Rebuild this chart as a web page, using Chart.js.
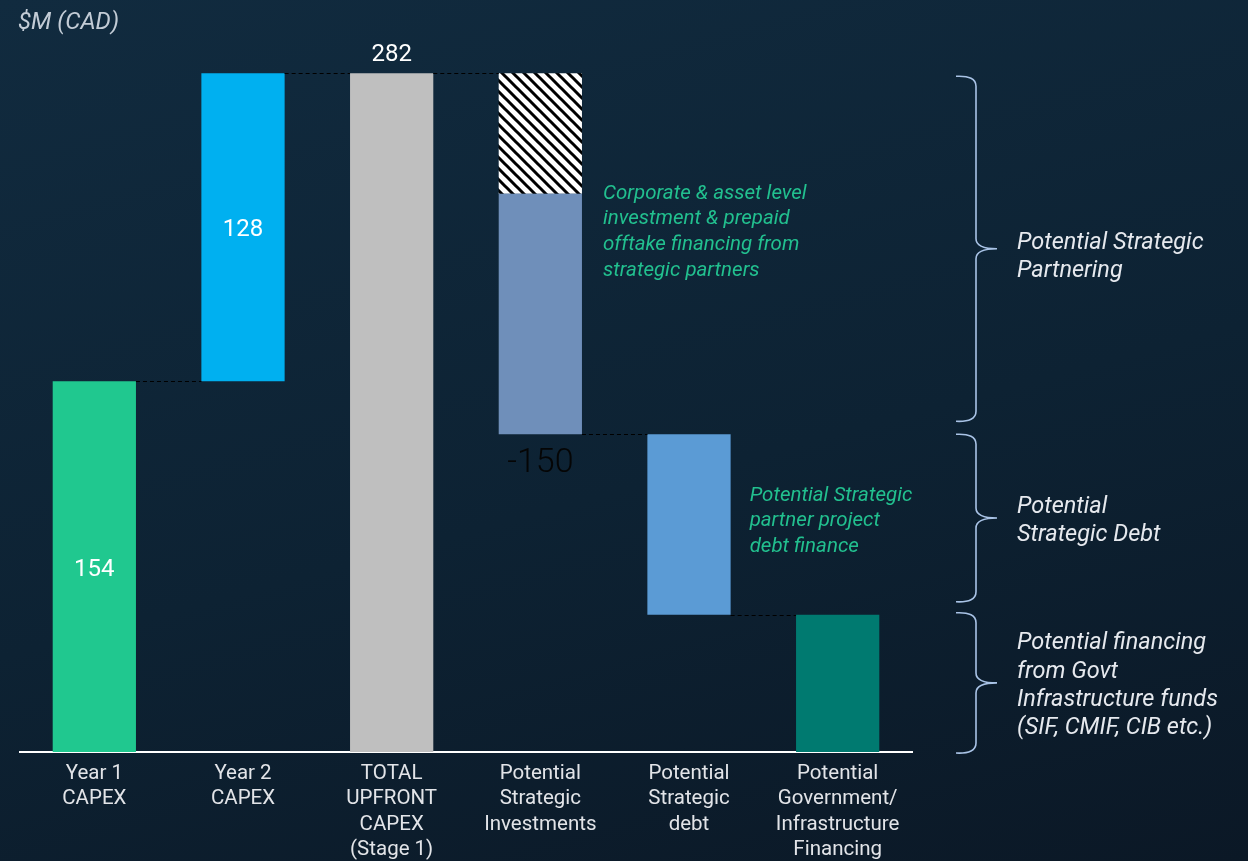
<!DOCTYPE html>
<html>
<head>
<meta charset="utf-8">
<script src="https://cdn.jsdelivr.net/npm/chart.js@4.4.1/dist/chart.umd.min.js"></script>
<style>
  html, body { margin: 0; padding: 0; overflow: hidden; }
  body {
    width: 1248px; height: 861px;
    background: linear-gradient(165deg, #112b3f 0%, #0d2233 55%, #0b1826 100%);
  }
  canvas { display: block; }
</style>
</head>
<body>
<canvas id="chart" width="1248" height="861"></canvas>
<script>
// 軸ラベル（カテゴリ）
const categories = [
    ['Year 1', 'CAPEX'],
    ['Year 2', 'CAPEX'],
    ['TOTAL', 'UPFRONT', 'CAPEX', '(Stage 1)'],
    ['Potential', 'Strategic', 'Investments'],
    ['Potential', 'Strategic', 'debt'],
    ['Potential', 'Government/', 'Infrastructure', 'Financing']
];

// 値 ($M CAD)
const year1Capex = 154;
const year2Capex = 128;
const totalCapex = 282;
const strategicInvestments = 150;   // ラベルは -150
const investmentsHatched = 50;      // 斜線部分
const strategicDebt = 75;
const governmentFinancing = 57;

const barColors = ['#20c88f', '#00b0f0', '#bfbfbf', '#6f8fba', '#5b9bd5', '#007a70'];

// 右側の括弧
const braces = [
    { hi: totalCapex, lo: totalCapex - strategicInvestments, label: ['Potential Strategic', 'Partnering'] },
    { hi: totalCapex - strategicInvestments, lo: governmentFinancing, label: ['Potential', 'Strategic Debt'] },
    { hi: governmentFinancing, lo: 0, label: ['Potential financing', 'from Govt', 'Infrastructure funds', '(SIF, CMIF, CIB etc.)'] }
];

const noteInvest = ['Corporate & asset level', 'investment & prepaid', 'offtake financing from', 'strategic partners'];
const noteDebt = ['Potential Strategic', 'partner project', 'debt finance'];

// ウォーターフォールの範囲を作成
const afterInvest = totalCapex - strategicInvestments;
const solidRanges = [
    [0, year1Capex],
    [year1Capex, year1Capex + year2Capex],
    [0, totalCapex],
    [afterInvest, totalCapex - investmentsHatched],
    [afterInvest - strategicDebt, afterInvest],
    [0, governmentFinancing]
];
const hatchRanges = [null, null, null, [totalCapex - investmentsHatched, totalCapex], null, null];
const runningLevels = [year1Capex, year1Capex + year2Capex, totalCapex, afterInvest, afterInvest - strategicDebt];

function makeHatch() {
    const c = document.createElement('canvas');
    c.width = 11; c.height = 11;
    const g = c.getContext('2d');
    g.fillStyle = '#ffffff';
    g.fillRect(0, 0, 11, 11);
    g.strokeStyle = '#000000';
    g.lineWidth = 3;
    g.beginPath();
    g.moveTo(-5, -5); g.lineTo(16, 16);
    g.moveTo(-5, 6); g.lineTo(5, 16);
    g.moveTo(6, -5); g.lineTo(16, 5);
    g.stroke();
    return g.createPattern(c, 'repeat');
}

const FONT = 'Roboto, "Noto Sans", sans-serif';

// 注記・コネクタ・括弧を描くプラグイン
const overlayPlugin = {
    id: 'overlay',
    afterDatasetsDraw(chart) {
        const ctx = chart.ctx;
        const y = chart.scales.y;
        const bars = chart.getDatasetMeta(0).data;

        // 破線コネクタ
        ctx.save();
        ctx.strokeStyle = '#000000';
        ctx.lineWidth = 1;
        ctx.setLineDash([4, 3]);
        runningLevels.forEach((lv, i) => {
            const py = Math.round(y.getPixelForValue(lv)) + 0.5;
            ctx.beginPath();
            ctx.moveTo(bars[i].x + bars[i].width / 2, py);
            ctx.lineTo(bars[i + 1].x - bars[i + 1].width / 2, py);
            ctx.stroke();
        });
        ctx.restore();

        // 棒の値ラベル
        ctx.save();
        ctx.textAlign = 'center';
        ctx.textBaseline = 'middle';
        ctx.fillStyle = '#ffffff';
        ctx.font = '24px ' + FONT;
        ctx.fillText(String(year1Capex), bars[0].x, (bars[0].y + bars[0].base) / 2 + 3);
        ctx.fillText(String(year2Capex), bars[1].x, (bars[1].y + bars[1].base) / 2 + 3);
        ctx.fillText(String(totalCapex), bars[2].x, y.getPixelForValue(totalCapex) - 18);
        ctx.fillStyle = '#050505';
        ctx.font = '300 34px ' + FONT;
        ctx.fillText('-' + strategicInvestments, bars[3].x, y.getPixelForValue(afterInvest) + 29);
        ctx.restore();

        // 緑の注記
        ctx.save();
        ctx.fillStyle = '#22c08f';
        ctx.font = 'italic 20.5px ' + FONT;
        ctx.textAlign = 'left';
        ctx.textBaseline = 'middle';
        const x1 = bars[3].x + bars[3].width / 2 + 21;
        const y1 = y.getPixelForValue(totalCapex - investmentsHatched);
        noteInvest.forEach((t, i) => ctx.fillText(t, x1, y1 + i * 25.7));
        const x2 = bars[4].x + bars[4].width / 2 + 19;
        const y2 = (bars[4].y + bars[4].base) / 2 - 29;
        noteDebt.forEach((t, i) => ctx.fillText(t, x2, y2 + i * 25.7));
        ctx.restore();

        // 右側の括弧
        ctx.save();
        ctx.strokeStyle = '#a9c3e6';
        ctx.lineWidth = 1.6;
        ctx.fillStyle = '#e6e9ee';
        ctx.font = 'italic 23.5px ' + FONT;
        ctx.textBaseline = 'middle';
        braces.forEach((b, k) => {
            const top = y.getPixelForValue(b.hi) + (k === 0 ? 3 : 0) + (k === 2 ? -2 : 0);
            const bottom = y.getPixelForValue(b.lo) - (k === 2 ? -1 : 13);
            const mid = (top + bottom) / 2;
            const xl = 956, xv = 976, xt = 997;
            ctx.beginPath();
            ctx.moveTo(xl, top);
            ctx.quadraticCurveTo(xv, top - 1, xv, top + 10);
            ctx.lineTo(xv, mid - 10);
            ctx.quadraticCurveTo(xv, mid, xt, mid);
            ctx.quadraticCurveTo(xv, mid, xv, mid + 10);
            ctx.lineTo(xv, bottom - 10);
            ctx.quadraticCurveTo(xv, bottom + 1, xl, bottom);
            ctx.stroke();
            const n = b.label.length;
            const lh = 28.3;
            const start = mid - (n - 1) * lh / 2 + 3 + (k === 0 ? 5 : 0);
            b.label.forEach((t, i) => ctx.fillText(t, 1017, start + i * lh));
        });
        ctx.restore();

        // 単位タイトル
        ctx.save();
        ctx.fillStyle = '#c3ccd6';
        ctx.font = 'italic 24px ' + FONT;
        ctx.textBaseline = 'middle';
        ctx.fillText('$M (CAD)', 18, 23);
        ctx.restore();
    }
};

const chart = new Chart(
    document.getElementById('chart'),
    {
        type: 'bar',
        data: {
            labels: categories,
            datasets: [
                {
                    data: solidRanges,
                    backgroundColor: barColors,
                    barPercentage: 0.56,
                    categoryPercentage: 1
                },
                {
                    data: hatchRanges,
                    backgroundColor: makeHatch(),
                    barPercentage: 0.56,
                    categoryPercentage: 1
                }
            ]
        },
        options: {
            responsive: false,
            animation: false,
            layout: {
                padding: { left: 20, right: 336, top: 30, bottom: 0 }
            },
            plugins: {
                legend: { display: false },
                tooltip: { enabled: false }
            },
            scales: {
                x: {
                    stacked: true,
                    grid: { display: false, drawTicks: false },
                    border: { display: true, color: '#ffffff', width: 2 },
                    ticks: {
                        color: '#e2e4e8',
                        padding: 9,
                        maxRotation: 0,
                        autoSkip: false,
                        font: { family: FONT, size: 20.5, lineHeight: 1.245 }
                    },
                    afterFit(scale) {
                        scale.height = 109;
                    }
                },
                y: {
                    display: false,
                    stacked: false,
                    min: 0,
                    max: 300
                }
            }
        },
        plugins: [overlayPlugin]
    }
);
</script>
</body>
</html>
